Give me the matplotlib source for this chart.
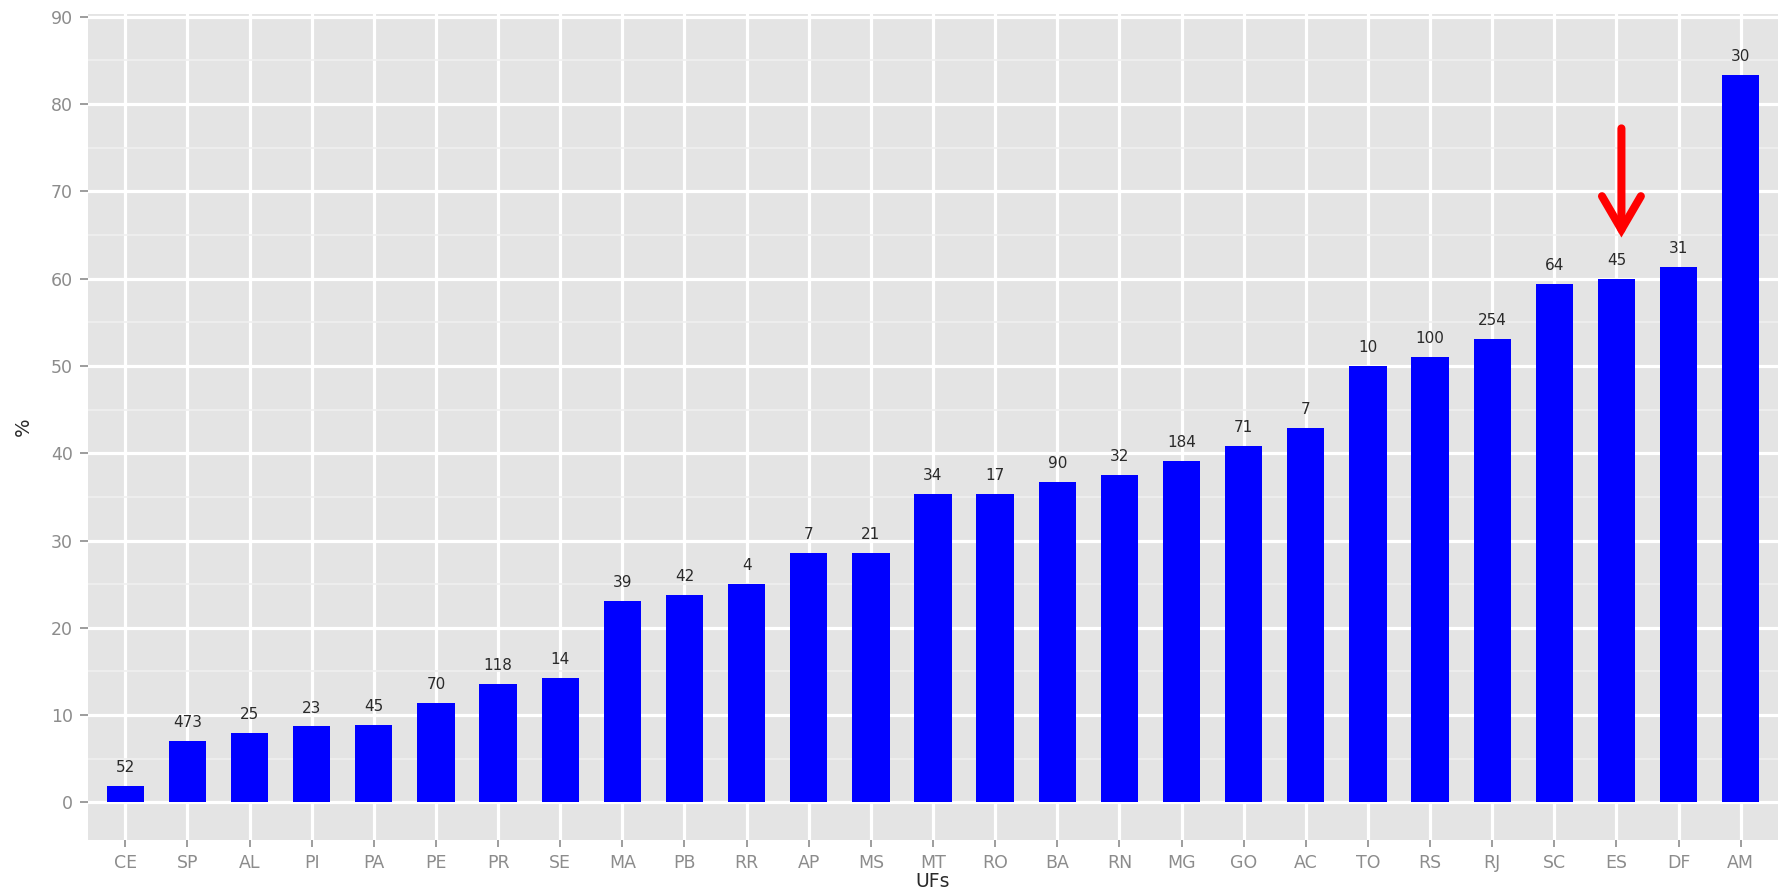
import matplotlib
matplotlib.use("Agg")
import matplotlib.pyplot as plt
from matplotlib.ticker import MultipleLocator

plt.rcParams['font.family'] = ['DejaVu Sans']

ufs = ['CE', 'SP', 'AL', 'PI', 'PA', 'PE', 'PR', 'SE', 'MA', 'PB', 'RR', 'AP', 'MS',
       'MT', 'RO', 'BA', 'RN', 'MG', 'GO', 'AC', 'TO', 'RS', 'RJ', 'SC', 'ES', 'DF', 'AM']
pct = [1.9, 7.0, 8.0, 8.7, 8.9, 11.4, 13.6, 14.3, 23.1, 23.8, 25.0, 28.6, 28.6,
       35.3, 35.3, 36.7, 37.5, 39.1, 40.8, 42.9, 50.0, 51.0, 53.1, 59.4, 60.0, 61.3, 83.3]
n_labels = ['52', '473', '25', '23', '45', '70', '118', '14', '39', '42', '4', '7', '21',
            '34', '17', '90', '32', '184', '71', '7', '10', '100', '254', '64', '45', '31', '30']
highlight = 'ES'

W, H = 1785, 891
fig = plt.figure(figsize=(W / 100, H / 100), dpi=100)
ax = fig.add_axes([88 / W, 1 - 840 / H, (1778 - 88) / W, (840 - 14) / H])

ax.set_facecolor('#E4E4E4')
x = list(range(len(ufs)))
ax.bar(x, pct, width=0.6, color='#0000FF', zorder=3)
for xi, v, lab in zip(x, pct, n_labels):
    ax.text(xi, v + 2.1, lab, ha='center', va='center', fontsize=11, color='#2a2a2a', zorder=4)

ax.set_xlim(-0.6, len(ufs) - 0.4)
ax.set_ylim(-4.3, 90.3)
ax.yaxis.set_major_locator(MultipleLocator(10))
ax.yaxis.set_minor_locator(MultipleLocator(5))
ax.set_xticks(x)
ax.set_xticklabels(ufs)

ax.grid(which='major', color='white', linewidth=2.3, zorder=0)
ax.grid(which='minor', axis='y', color='#F0F0F0', linewidth=1.2, zorder=0)
ax.set_axisbelow(True)
for s in ax.spines.values():
    s.set_visible(False)
ax.tick_params(axis='both', which='major', length=6, width=1.2, color='#8c8c8c',
               labelcolor='#8c8c8c', labelsize=12.5, pad=5)
ax.tick_params(axis='x', which='major', length=5, pad=5)
ax.tick_params(axis='y', which='minor', length=0)

ax.set_xlabel('UFs', fontsize=13.5, color='#2a2a2a')
ax.set_ylabel('%', fontsize=14, color='#2a2a2a')
ax.xaxis.set_label_coords(0.5, -0.050)
ax.xaxis.label.set_va('center')
ax.yaxis.set_label_coords(-0.038, 0.5)
ax.yaxis.label.set_va('center')

i = ufs.index(highlight)
ax.annotate('', xy=(i + 0.08, 64.7), xytext=(i + 0.08, 77.2),
            arrowprops=dict(arrowstyle='->,head_length=1.2,head_width=0.7',
                            mutation_scale=20, color='#FF0000', linewidth=5.8,
                            shrinkA=0, shrinkB=0, capstyle='round', joinstyle='miter'),
            zorder=5)

fig.savefig('out.png', dpi=100)
